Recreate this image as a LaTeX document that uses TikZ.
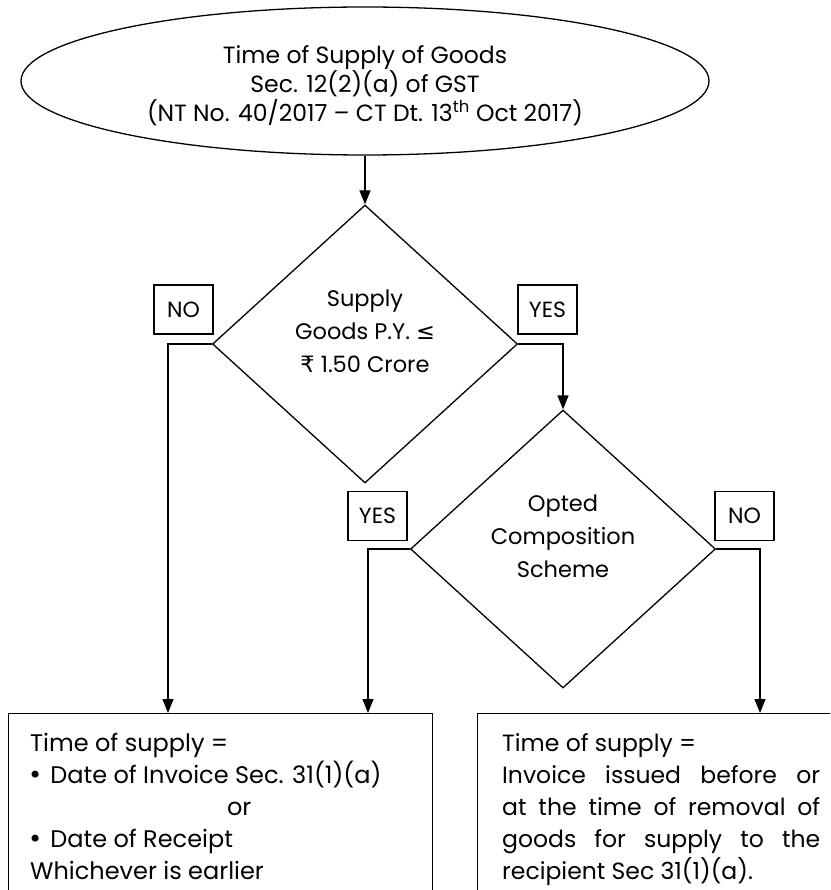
\documentclass[tikz,border=0pt]{standalone}
\usepackage{fontspec}
\setmainfont{Poppins}
\newfontfamily\sym{DejaVu Sans}
\usetikzlibrary{shapes.geometric,arrows.meta}
\begin{document}
\begin{tikzpicture}[x=1pt,y=-1pt,
  ln/.style={line width=1.3pt,line join=miter},
  arr/.style={ln,-{Triangle[length=14pt,width=11pt]}},
  shp/.style={draw,line width=1.3pt,inner sep=0pt},
  dia/.style={shp,diamond,minimum width=305pt,minimum height=278pt},
  tag/.style={shp,rectangle,minimum width=59pt,minimum height=49pt,font=\fontsize{22}{25}\selectfont},
  txt/.style={inner sep=0pt,font=\fontsize{22.5}{25}\selectfont}
]
\useasboundingbox (0,0) rectangle (830,890);
\clip (0,0) rectangle (830,890);
% ellipse
\node[shp,ellipse,minimum width=688pt,minimum height=148pt] (ell) at (365,81) {};
\node[txt,align=center,font=\fontsize{23.5}{29}\selectfont] (ellt) at (365,86)
  {Time of Supply of Goods\\Sec. 12(2)(a) of GST\\(NT No. 40/2017 -- CT Dt. 13\textsuperscript{th} Oct 2017)};
% diamonds
\node[dia] (d1) at (365,344) {};
\node[txt,align=center,font=\fontsize{22.5}{33}\selectfont] (d1t) at (365,331)
  {Supply\\Goods P.Y. {\sym ≤}\\{\sym ₹} 1.50 Crore};
\node[dia] (d2) at (563,549) {};
\node[txt,align=center,font=\fontsize{22.5}{33}\selectfont] (d2t) at (563,536)
  {Opted\\Composition\\Scheme};
% tags
\node[tag] (no1) at (183.5,309.5) {NO};
\node[tag] (yes1) at (547.5,309.5) {YES};
\node[tag] (yes2) at (377.5,516) {YES};
\node[tag] (no2) at (744.5,516) {NO};
% boxes
\node[shp,rectangle,anchor=north west,minimum width=424pt,minimum height=200pt] (lb) at (8,713) {};
\node[shp,rectangle,anchor=north west,minimum width=380pt,minimum height=200pt] (rb) at (477,713) {};
\node[txt,anchor=north west,align=left,font=\fontsize{24}{32}\selectfont] (lbt) at (30,733)
  {Time of supply =\\
   \hspace*{-2pt}{\sym •}\hspace{8pt}Date of Invoice Sec. 31(1)(a)\\
   \makebox[418pt]{or}\\
   \hspace*{-2pt}{\sym •}\hspace{8pt}Date of Receipt\\
   Whichever is earlier};
\node[txt,anchor=north west,text width=318pt,align=justify,font=\fontsize{23.5}{32}\selectfont] (rbt) at (502,733)
  {Time of supply =\\
   Invoice issued before or\linebreak
   at the time of removal of\linebreak
   goods for supply to the\linebreak
   recipient Sec 31(1)(a).};
% connectors
\coordinate (c1) at (168,713);
\coordinate (c2) at (368,713);
\coordinate (c3) at (760,713);
\draw[arr] (ell.south) -- (d1.north);
\draw[arr] (d1.east) -| (d2.north);
\draw[arr] (d1.west) -| (c1);
\draw[arr] (d2.west) -| (c2);
\draw[arr] (d2.east) -| (c3);
\end{tikzpicture}
\end{document}
